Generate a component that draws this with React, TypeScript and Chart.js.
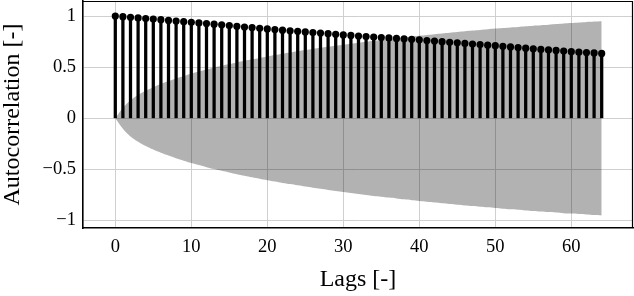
import React, { useEffect, useRef } from "react";
import { Chart, registerables } from "chart.js";

Chart.register(...registerables);

const LAGS = [
  0, 1, 2, 3, 4, 5, 6, 7, 8, 9, 10, 11, 12, 13, 14, 15, 16, 17, 18, 19, 20, 21,
  22, 23, 24, 25, 26, 27, 28, 29, 30, 31, 32, 33, 34, 35, 36, 37, 38, 39, 40, 41,
  42, 43, 44, 45, 46, 47, 48, 49, 50, 51, 52, 53, 54, 55, 56, 57, 58, 59, 60, 61,
  62, 63, 64,
];

const ACF = [
  1.0, 0.994, 0.988, 0.982, 0.976, 0.97, 0.964, 0.957, 0.951, 0.945, 0.939,
  0.933, 0.926, 0.92, 0.914, 0.907, 0.9, 0.893, 0.887, 0.88, 0.874, 0.868,
  0.862, 0.856, 0.851, 0.845, 0.839, 0.834, 0.828, 0.821, 0.815, 0.81, 0.805,
  0.8, 0.795, 0.79, 0.786, 0.781, 0.777, 0.772, 0.767, 0.761, 0.755, 0.749,
  0.743, 0.738, 0.732, 0.726, 0.721, 0.715, 0.71, 0.704, 0.698, 0.692, 0.686,
  0.68, 0.674, 0.669, 0.664, 0.658, 0.652, 0.647, 0.643, 0.639, 0.635,
];

// half-width of the confidence band (symmetric around 0)
const CONF = [
  0, 0.103, 0.178, 0.229, 0.27, 0.305, 0.336, 0.364, 0.39, 0.414, 0.436, 0.457,
  0.477, 0.496, 0.513, 0.53, 0.547, 0.562, 0.577, 0.591, 0.605, 0.618, 0.631,
  0.643, 0.655, 0.667, 0.678, 0.689, 0.7, 0.71, 0.72, 0.73, 0.739, 0.749, 0.758,
  0.766, 0.775, 0.783, 0.792, 0.8, 0.807, 0.815, 0.823, 0.83, 0.837, 0.844,
  0.851, 0.858, 0.864, 0.87, 0.877, 0.883, 0.889, 0.894, 0.9, 0.906, 0.911,
  0.916, 0.921, 0.927, 0.931, 0.936, 0.941, 0.946, 0.95,
];

const X_TICKS = [0, 10, 20, 30, 40, 50, 60];
const Y_TICKS = [-1, -0.5, 0, 0.5, 1];
const X_TITLE = "Lags [-]";
const Y_TITLE = "Autocorrelation [-]";

const FONT = "'Liberation Serif', 'Times New Roman', serif";

const framePlugin = {
  id: "frame",
  afterDraw(chart: any) {
    const { ctx, chartArea: a } = chart;
    ctx.save();
    ctx.strokeStyle = "#000";
    ctx.lineWidth = 1.2;
    ctx.beginPath();
    ctx.moveTo(a.left, a.top + 0.5);
    ctx.lineTo(a.right - 0.5, a.top + 0.5);
    ctx.lineTo(a.right - 0.5, a.bottom);
    ctx.stroke();
    ctx.restore();
  },
};

const fmt = (v: number) => {
  const s = String(Math.abs(v));
  return v < 0 ? "\u2212" + s : s;
};

export default function App() {
  const ref = useRef<HTMLCanvasElement | null>(null);

  useEffect(() => {
    document.body.style.margin = "0";
    const canvas = ref.current;
    if (!canvas) return;

    const upper = LAGS.map((l, i) => ({ x: l, y: CONF[i] }));
    const lower = LAGS.map((l, i) => ({ x: l, y: -CONF[i] }));
    const pts = LAGS.map((l, i) => ({ x: l, y: ACF[i] }));

    const chart = new Chart(canvas, {
      type: "scatter",
      data: {
        datasets: [
          {
            type: "scatter",
            data: pts,
            pointRadius: 3.6,
            pointBackgroundColor: "#000",
            pointBorderWidth: 0,
            order: 0,
          } as any,
          {
            type: "bar",
            data: pts,
            backgroundColor: "#000",
            barThickness: 2.6,
            borderWidth: 0,
            order: 1,
          } as any,
          {
            type: "line",
            data: upper,
            borderWidth: 0,
            pointRadius: 0,
            tension: 0.4,
            fill: false,
            order: 3,
          } as any,
          {
            type: "line",
            data: lower,
            borderWidth: 0,
            pointRadius: 0,
            tension: 0.4,
            fill: "-1",
            backgroundColor: "rgba(0,0,0,0.3)",
            order: 2,
          } as any,
        ],
      },
      options: {
        animation: false,
        responsive: true,
        maintainAspectRatio: false,
        layout: { autoPadding: false, padding: { top: 1, right: 1, left: 0, bottom: 0 } },
        plugins: {
          legend: { display: false },
          tooltip: { enabled: false },
        },
        scales: {
          x: {
            type: "linear",
            min: -4.25,
            max: 68.12,
            offset: false,
            afterFit: (s: any) => {
              s.height = 68;
              s.paddingLeft = 0;
              s.paddingRight = 0;
            },
            afterBuildTicks: (s: any) => {
              s.ticks = X_TICKS.map((v) => ({ value: v }));
            },
            grid: { color: "#cfcfcf", lineWidth: 1, drawTicks: false, offset: false },
            border: { color: "#000", width: 1.6 },
            ticks: {
              color: "#000",
              padding: 8,
              maxRotation: 0,
              font: { family: FONT, size: 18.5 },
              callback: (v: any) => fmt(Number(v)),
            },
            title: {
              display: true,
              text: X_TITLE,
              color: "#000",
              font: { family: FONT, size: 24 },
              padding: { top: 0, bottom: 2 },
            },
          },
          y: {
            type: "linear",
            min: -1.072,
            max: 1.147,
            afterFit: (s: any) => {
              s.width = 83;
              s.paddingTop = 0;
              s.paddingBottom = 0;
            },
            afterBuildTicks: (s: any) => {
              s.ticks = Y_TICKS.map((v) => ({ value: v }));
            },
            grid: { color: "#cfcfcf", lineWidth: 1, drawTicks: false },
            border: { color: "#000", width: 1.6 },
            ticks: {
              color: "#000",
              padding: 7,
              font: { family: FONT, size: 18.5 },
              callback: (v: any) => fmt(Number(v)),
            },
            title: {
              display: true,
              text: Y_TITLE,
              color: "#000",
              font: { family: FONT, size: 24 },
              padding: { top: -2, bottom: 0 },
            },
          },
        },
      },
      plugins: [framePlugin],
    });

    return () => chart.destroy();
  }, []);

  return (
    <div style={{ position: "relative", width: 634, height: 296 }}>
      <canvas ref={ref} />
    </div>
  );
}
